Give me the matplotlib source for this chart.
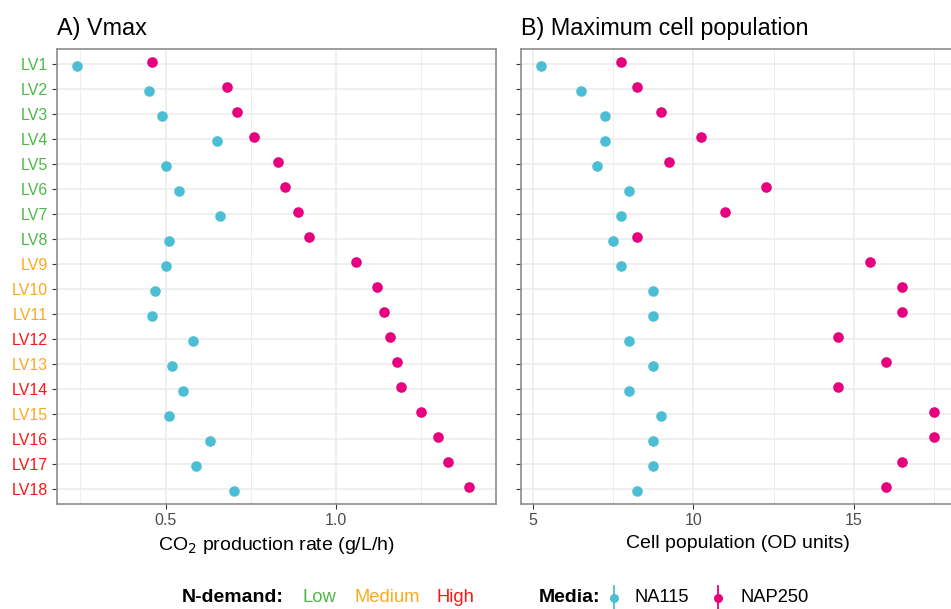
import numpy as np
import matplotlib.pyplot as plt
from matplotlib.lines import Line2D

plt.rcParams['font.family'] = ['Liberation Sans', 'DejaVu Sans']

# strains, top to bottom
strains = ['LV%d' % i for i in range(1, 19)]
n_demand = ['Low'] * 8 + ['Medium', 'Medium', 'Medium', 'High', 'Medium',
                          'High', 'Medium', 'High', 'High', 'High']

# A) Vmax, CO2 production rate (g/L/h)
vmax_na115 = [0.24, 0.45, 0.49, 0.65, 0.50, 0.54, 0.66, 0.51, 0.50,
              0.47, 0.46, 0.58, 0.52, 0.55, 0.51, 0.63, 0.59, 0.70]
vmax_nap250 = [0.46, 0.68, 0.71, 0.76, 0.83, 0.85, 0.89, 0.92, 1.06,
               1.12, 1.14, 1.16, 1.18, 1.19, 1.25, 1.30, 1.33, 1.39]

# B) Maximum cell population (OD units)
pop_na115 = [5.25, 6.5, 7.25, 7.25, 7.0, 8.0, 7.75, 7.5, 7.75,
             8.75, 8.75, 8.0, 8.75, 8.0, 9.0, 8.75, 8.75, 8.25]
pop_nap250 = [7.75, 8.25, 9.0, 10.25, 9.25, 12.25, 11.0, 8.25, 15.5,
              16.5, 16.5, 14.5, 16.0, 14.5, 17.5, 17.5, 16.5, 16.0]

demand_colors = {'Low': '#4DB848', 'Medium': '#FBAA1E', 'High': '#FF1414'}
c_na115 = '#4BBED3'
c_nap250 = '#E6007E'

W, H = 951, 609
fig = plt.figure(figsize=(W / 100, H / 100), dpi=100)


def px_axes(x0, y0, x1, y1):
    return fig.add_axes([x0 / W, 1 - y1 / H, (x1 - x0) / W, (y1 - y0) / H])


ax1 = px_axes(57, 49, 496, 504)
ax2 = px_axes(521, 49, 954, 504)

rows = np.arange(len(strains))


def style(ax, xlim, major, minor, xlabel, title):
    ax.set_xlim(*xlim)
    ax.set_ylim(len(strains) - 0.4, -0.6)
    ax.set_xticks(major)
    ax.set_xticks(minor, minor=True)
    ax.set_yticks(rows)
    ax.grid(which='major', color='#EBEBEB', lw=1.1, zorder=0)
    ax.grid(which='minor', axis='x', color='#EBEBEB', lw=0.6, zorder=0)
    ax.set_axisbelow(True)
    ax.tick_params(axis='both', which='major', length=3.5, width=0.8,
                   color='#333333', labelsize=11.5, labelcolor='#4D4D4D', pad=3)
    ax.tick_params(which='minor', length=0)
    for s in ax.spines.values():
        s.set_color('#8C8C8C')
        s.set_linewidth(1.2)
    ax.set_xlabel(xlabel, fontsize=14, labelpad=5)
    ax.set_title(title, loc='left', fontsize=16.8, pad=10)


def dots(ax, a, b):
    ax.scatter(a, rows + 0.07, s=58, color=c_na115, linewidths=0, zorder=3)
    ax.scatter(b, rows - 0.08, s=58, color=c_nap250, linewidths=0, zorder=3)


dots(ax1, vmax_na115, vmax_nap250)
style(ax1, (0.181, 1.47), [0.5, 1.0], [0.25, 0.75, 1.25],
      'CO$_2$ production rate (g/L/h)', 'A) Vmax')
ax1.set_yticklabels(strains)
for lab, d in zip(ax1.get_yticklabels(), n_demand):
    lab.set_color(demand_colors[d])

dots(ax2, pop_na115, pop_nap250)
style(ax2, (4.6375, 18.1125), [5, 10, 15], [7.5, 12.5, 17.5],
      'Cell population (OD units)', 'B) Maximum cell population')
ax2.set_yticklabels([])

# legend row
ly = 1 - 598 / H
fig.text(182 / W, ly, 'N-demand:', fontsize=14, fontweight='bold', va='center')
for name, x in [('Low', 303), ('Medium', 355), ('High', 436)]:
    fig.text(x / W, ly, name, fontsize=13.2, color=demand_colors[name], va='center')

fig.text(539 / W, ly, 'Media:', fontsize=14, fontweight='bold', va='center')
for name, col, xm, xt in [('NA115', c_na115, 614, 634), ('NAP250', c_nap250, 718, 740)]:
    fig.add_artist(Line2D([xm / W, xm / W], [ly - 12 / H, ly + 12 / H],
                          color=col, lw=1.3, transform=fig.transFigure))
    fig.add_artist(Line2D([xm / W], [ly], marker='o', ms=6.5, color=col,
                          mew=0, transform=fig.transFigure))
    fig.text(xt / W, ly, name, fontsize=13.2, va='center')

fig.savefig('out.png', dpi=100)
